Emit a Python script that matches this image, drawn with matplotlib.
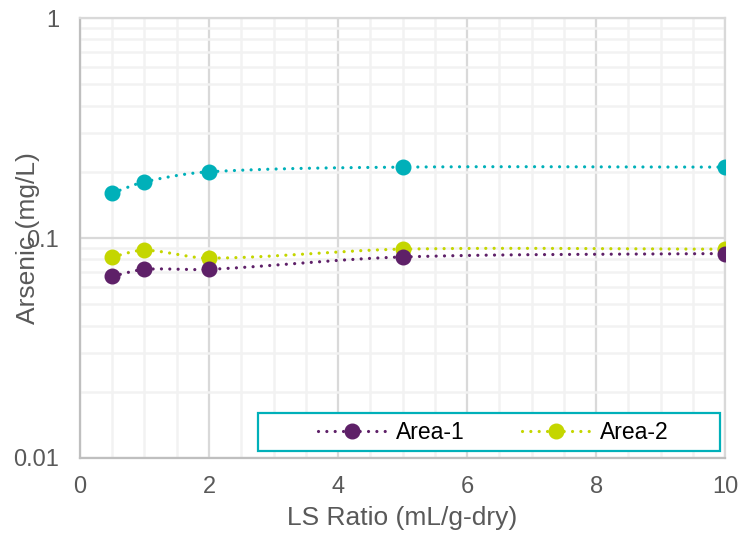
import numpy as np
import matplotlib
matplotlib.use("Agg")
import matplotlib.pyplot as plt
from matplotlib.patches import Rectangle
from matplotlib.ticker import FixedLocator, NullFormatter

plt.rcParams['font.family'] = ['Liberation Sans', 'DejaVu Sans']

# leaching test results
ls_ratio = [0.5, 1, 2, 5, 10]
area_1 = [0.067, 0.072, 0.072, 0.082, 0.085]
area_2 = [0.082, 0.088, 0.081, 0.089, 0.089]
reference = [0.160, 0.180, 0.200, 0.210, 0.210]

x_ticks = [0, 2, 4, 6, 8, 10]
y_ticks = [0.01, 0.1, 1]
y_tick_labels = ["0.01", "0.1", "1"]

purple = "#5e2068"
lime = "#c4d600"
teal = "#00b0b9"
text_grey = "#595959"


def smooth(x, y, n=40):
    # Catmull-Rom curve through the points (log scale on y)
    x = np.asarray(x, float)
    ly = np.log10(y)
    px = np.concatenate([[2 * x[0] - x[1]], x, [2 * x[-1] - x[-2]]])
    py = np.concatenate([[2 * ly[0] - ly[1]], ly, [2 * ly[-1] - ly[-2]]])
    xs, ys = [], []
    t = np.linspace(0, 1, n)
    for i in range(1, len(px) - 2):
        x0, x1, x2, x3 = px[i - 1:i + 3]
        y0, y1, y2, y3 = py[i - 1:i + 3]
        # tangents scaled to segment length
        mx1 = (x2 - x0) / 2
        mx2 = (x3 - x1) / 2
        my1 = (y2 - y0) / 2
        my2 = (y3 - y1) / 2
        h = x2 - x1
        s1 = h / (x2 - x0) * 2 if x2 != x0 else 1
        s2 = h / (x3 - x1) * 2 if x3 != x1 else 1
        h00 = 2 * t**3 - 3 * t**2 + 1
        h10 = t**3 - 2 * t**2 + t
        h01 = -2 * t**3 + 3 * t**2
        h11 = t**3 - t**2
        xs.append(h00 * x1 + h10 * mx1 * s1 + h01 * x2 + h11 * mx2 * s2)
        ys.append(h00 * y1 + h10 * my1 * s1 + h01 * y2 + h11 * my2 * s2)
    return np.concatenate(xs), 10 ** np.concatenate(ys)


fig = plt.figure(figsize=(7.4, 5.38), dpi=100)
ax = fig.add_axes([0.108, 0.1487, 0.872, 0.8178])

line_kw = dict(linewidth=2.3, linestyle=(0, (0.01, 2.6)), dash_capstyle='round')
marker_kw = dict(linestyle='none', marker='o', markersize=10.5, zorder=4)

for values, color in [(reference, teal), (area_2, lime), (area_1, purple)]:
    sx, sy = smooth(ls_ratio, values)
    ax.plot(sx, sy, color=color, zorder=3, **line_kw)
    ax.plot(ls_ratio, values, color=color, markeredgecolor=color, **marker_kw)

ax.set_yscale('log')
ax.set_xlim(0, 10)
ax.set_ylim(0.01, 1)

ax.xaxis.set_major_locator(FixedLocator(x_ticks))
ax.xaxis.set_minor_locator(FixedLocator([v for v in np.arange(0.5, 10, 0.5) if v % 2]))
ax.yaxis.set_major_locator(FixedLocator(y_ticks))
ax.set_yticklabels(y_tick_labels)
ax.yaxis.set_minor_locator(FixedLocator([m * 10.0**k for k in (-2, -1) for m in range(2, 10)]))
ax.yaxis.set_minor_formatter(NullFormatter())

ax.grid(which='major', color='#d9d9d9', linewidth=1.6, zorder=1)
ax.grid(which='minor', color='#f2f2f2', linewidth=1.8, zorder=0)
ax.set_axisbelow(True)

ax.tick_params(which='both', length=0, labelsize=17, labelcolor=text_grey)
ax.tick_params(axis='y', pad=15)
ax.tick_params(axis='x', pad=13)

for side in ['top', 'right']:
    ax.spines[side].set_color('#d9d9d9')
    ax.spines[side].set_linewidth(1.6)
for side in ['left', 'bottom']:
    ax.spines[side].set_color('#bfbfbf')
    ax.spines[side].set_linewidth(1.6)

ax.set_xlabel("LS Ratio (mL/g-dry)", fontsize=19, color=text_grey)
ax.set_ylabel("Arsenic (mg/L)", fontsize=19, color=text_grey)
ax.xaxis.set_label_coords(0.5, -0.108)
ax.yaxis.set_label_coords(-0.062, 0.5)

# legend box
ax.add_patch(Rectangle((0.276, 0.016), 0.716, 0.086, transform=ax.transAxes,
                       facecolor='white', edgecolor=teal, linewidth=1.6, zorder=5))
handles = [
    plt.Line2D([], [], color=purple, marker='o', markersize=10.5, **line_kw),
    plt.Line2D([], [], color=lime, marker='o', markersize=10.5, **line_kw),
]
leg = ax.legend(handles, ["Area-1", "Area-2"], ncol=2, loc='center',
                bbox_to_anchor=(0.64, 0.059), frameon=False, fontsize=16.5,
                handlelength=3.0, handletextpad=0.4, columnspacing=2.5)
leg.set_zorder(6)

fig.savefig("out.png", dpi=100)
